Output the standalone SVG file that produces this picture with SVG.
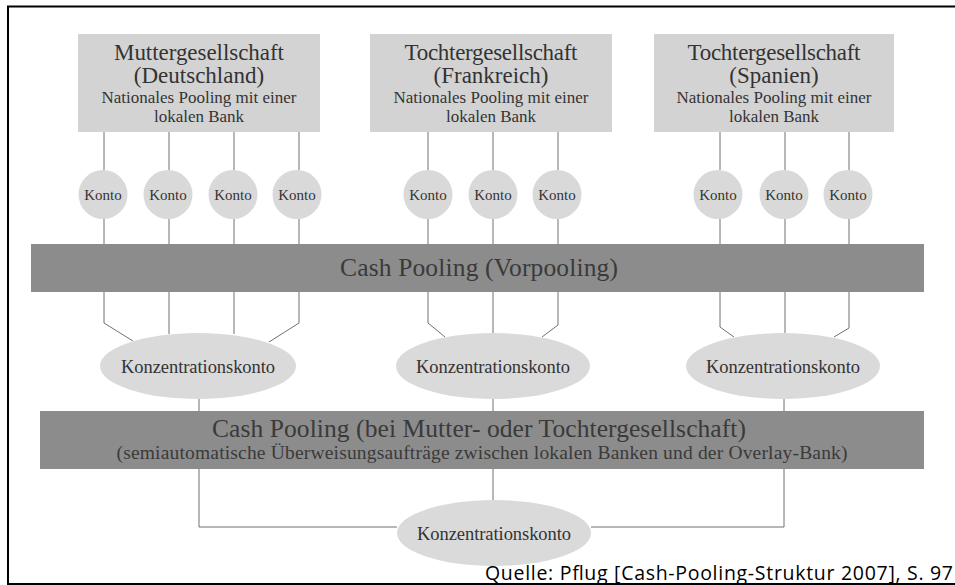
<svg xmlns="http://www.w3.org/2000/svg" width="955" height="585" viewBox="0 0 955 585">
<style>
.box{fill:#d3d3d3}
.konto{fill:#d9d9d9}
.ell{fill:#dadada}
.bar{fill:#8c8c8c}
.t{font-family:"Liberation Serif","Times New Roman",serif;fill:#333;text-anchor:middle}
.bt{font-family:"Liberation Serif","Times New Roman",serif;fill:#3a3a3a;text-anchor:middle}
.ln{stroke:#707070;stroke-width:1;fill:none}
</style>
<rect x="0" y="0" width="955" height="585" fill="#fff"/>
<rect x="8" y="6.5" width="960" height="577.5" fill="none" stroke="#000" stroke-width="2"/>
<g id="connectors" class="ln">
<path d="M104 132V170M169 132V170M234 132V170M299 132V170"/>
<path d="M428 132V170M493 132V170M558 132V170"/>
<path d="M720 132V170M785 132V170M849 132V170"/>
<path d="M104 219V244M169 219V244M234 219V244M299 219V244"/>
<path d="M428 219V244M493 219V244M558 219V244"/>
<path d="M720 219V244M785 219V244M849 219V244"/>
<path d="M104 292V323L133 341M169 292V334M234 292V334M299 292V323L269 342"/>
<path d="M428 292V323L445 337M493 292V333M558 292V325L542 337"/>
<path d="M720 292V327L734 337M785 292V333M849 292V328L834 337"/>
<path d="M199 399V411M493 399V411M784 399V411"/>
<path d="M199 469V527H397M784 469V527H591M493 469V500"/>
</g>
<g id="mutter">
<rect class="box" x="78" y="34" width="242" height="98"/>
<text class="t" x="199" y="60" font-size="23" textLength="170">Muttergesellschaft</text>
<text class="t" x="199" y="83" font-size="23">(Deutschland)</text>
<text class="t" x="199" y="103" font-size="17" textLength="195">Nationales Pooling mit einer</text>
<text class="t" x="199" y="122" font-size="17">lokalen Bank</text>
</g>
<g id="frankreich">
<rect class="box" x="370" y="34" width="242" height="98"/>
<text class="t" x="491" y="60" font-size="23" textLength="173">Tochtergesellschaft</text>
<text class="t" x="491" y="83" font-size="23">(Frankreich)</text>
<text class="t" x="491" y="103" font-size="17" textLength="195">Nationales Pooling mit einer</text>
<text class="t" x="491" y="122" font-size="17">lokalen Bank</text>
</g>
<g id="spanien">
<rect class="box" x="654" y="34" width="240" height="98"/>
<text class="t" x="774" y="60" font-size="23" textLength="173">Tochtergesellschaft</text>
<text class="t" x="774" y="83" font-size="23">(Spanien)</text>
<text class="t" x="774" y="103" font-size="17" textLength="195">Nationales Pooling mit einer</text>
<text class="t" x="774" y="122" font-size="17">lokalen Bank</text>
</g>
<g id="konten">
<g id="k1"><circle class="konto" cx="103" cy="194.5" r="24.5"/><text class="t" x="103" y="200" font-size="15">Konto</text></g>
<g id="k2"><circle class="konto" cx="168" cy="194.5" r="24.5"/><text class="t" x="168" y="200" font-size="15">Konto</text></g>
<g id="k3"><circle class="konto" cx="233" cy="194.5" r="24.5"/><text class="t" x="233" y="200" font-size="15">Konto</text></g>
<g id="k4"><circle class="konto" cx="297" cy="194.5" r="24.5"/><text class="t" x="297" y="200" font-size="15">Konto</text></g>
<g id="k5"><circle class="konto" cx="428" cy="194.5" r="24.5"/><text class="t" x="428" y="200" font-size="15">Konto</text></g>
<g id="k6"><circle class="konto" cx="493" cy="194.5" r="24.5"/><text class="t" x="493" y="200" font-size="15">Konto</text></g>
<g id="k7"><circle class="konto" cx="557" cy="194.5" r="24.5"/><text class="t" x="557" y="200" font-size="15">Konto</text></g>
<g id="k8"><circle class="konto" cx="718" cy="194.5" r="24.5"/><text class="t" x="718" y="200" font-size="15">Konto</text></g>
<g id="k9"><circle class="konto" cx="784" cy="194.5" r="24.5"/><text class="t" x="784" y="200" font-size="15">Konto</text></g>
<g id="k10"><circle class="konto" cx="848" cy="194.5" r="24.5"/><text class="t" x="848" y="200" font-size="15">Konto</text></g>
</g>
<g id="vorpooling">
<rect class="bar" x="31" y="244" width="893" height="48"/>
<text class="bt" x="479" y="276" font-size="25.5" textLength="278">Cash Pooling (Vorpooling)</text>
</g>
<g id="konz1"><ellipse class="ell" cx="198" cy="366" rx="98" ry="33"/><text class="t" x="198" y="372.5" font-size="18.5" textLength="154">Konzentrationskonto</text></g>
<g id="konz2"><ellipse class="ell" cx="493" cy="366" rx="97" ry="33"/><text class="t" x="493" y="372.5" font-size="18.5" textLength="154">Konzentrationskonto</text></g>
<g id="konz3"><ellipse class="ell" cx="783" cy="366" rx="97" ry="33"/><text class="t" x="783" y="372.5" font-size="18.5" textLength="154">Konzentrationskonto</text></g>
<g id="cashpooling">
<rect class="bar" x="40" y="411" width="884" height="58"/>
<text class="bt" x="479" y="437" font-size="25.5" textLength="534">Cash Pooling (bei Mutter- oder Tochtergesellschaft)</text>
<text class="bt" x="482" y="459" font-size="19.5" textLength="731">(semiautomatische Überweisungsaufträge zwischen lokalen Banken und der Overlay-Bank)</text>
</g>
<g id="konz4"><ellipse class="ell" cx="494" cy="533" rx="97" ry="33"/><text class="t" x="494" y="539.5" font-size="18.5" textLength="154">Konzentrationskonto</text></g>
<text x="485" y="580" font-family="'Open Sans','Noto Sans',sans-serif" font-size="19.5" fill="#000" textLength="468">Quelle: Pflug [Cash-Pooling-Struktur 2007], S. 97</text>
</svg>
